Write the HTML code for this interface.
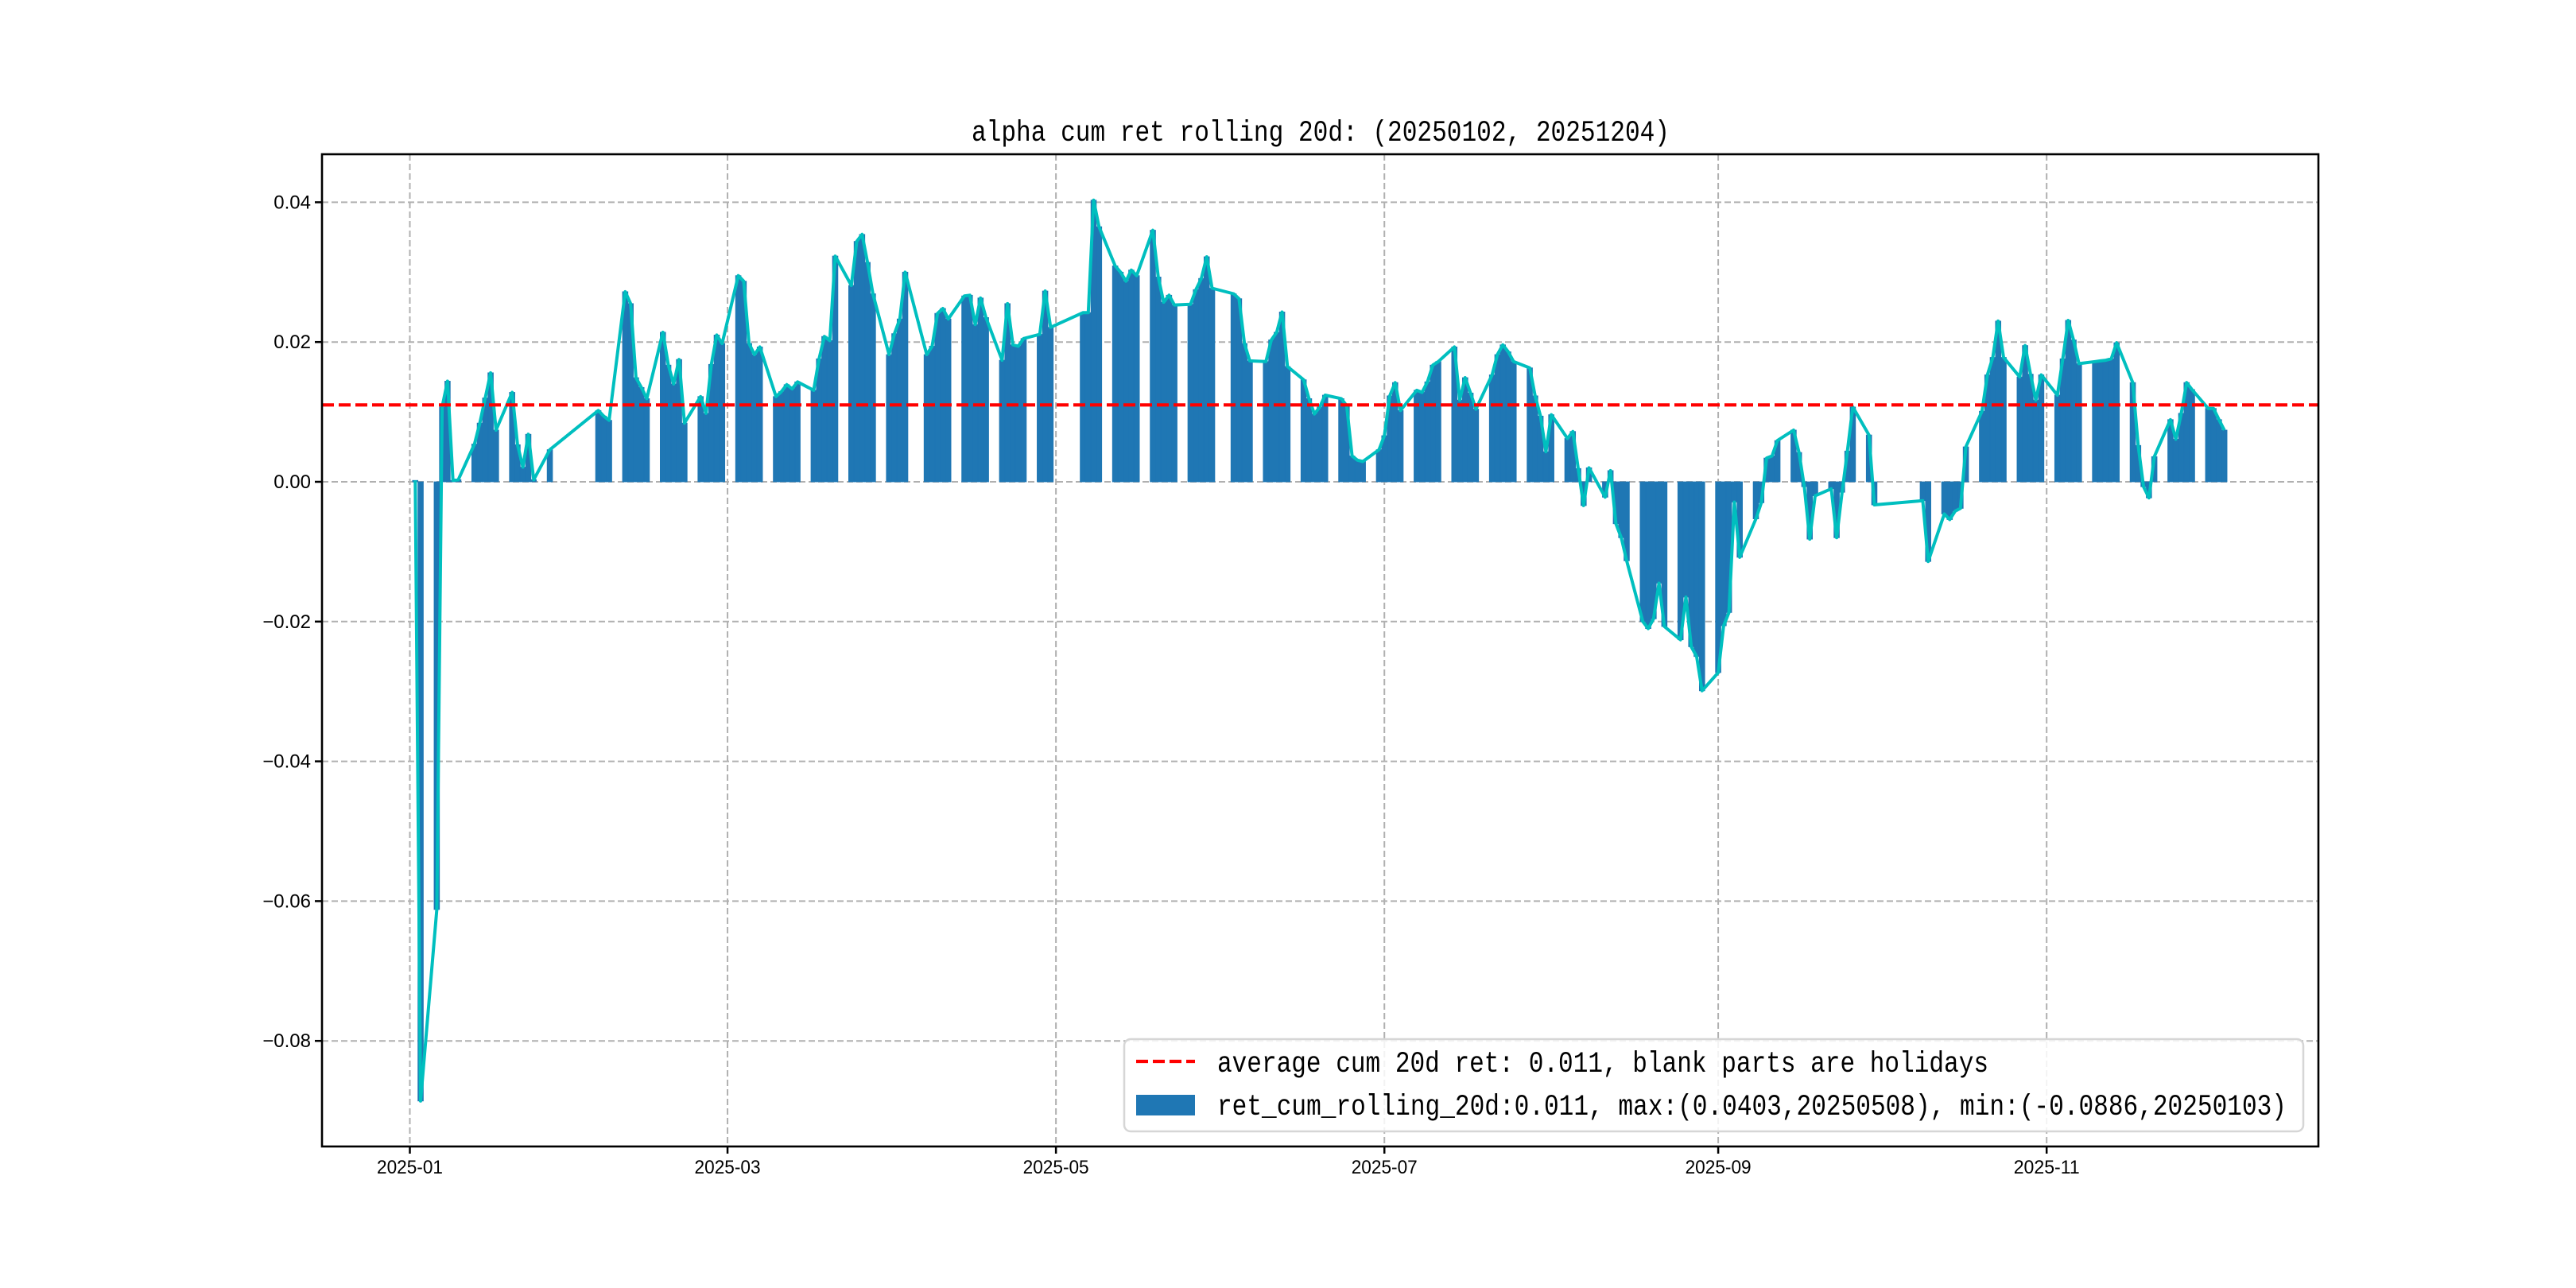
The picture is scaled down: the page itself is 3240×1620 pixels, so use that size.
<!DOCTYPE html>
<html><head><meta charset="utf-8">
<style>
html,body{margin:0;padding:0;background:#fff;}
svg{display:block;}
text{font-family:"Liberation Mono","WenQuanYi Zen Hei",monospace;fill:#000;}
.tick{font-family:"WenQuanYi Zen Hei","Liberation Sans",sans-serif;}
</style></head>
<body>
<svg id="chart" width="3240" height="1620" viewBox="0 0 3240 1620" xmlns="http://www.w3.org/2000/svg">
<rect x="0" y="0" width="3240" height="1620" fill="#fff"/>
<g id="grid"></g>
<g id="bars"></g>
<g id="line"></g>
<g id="avg"></g>
<rect x="405" y="194" width="2511" height="1248" fill="none" stroke="#000" stroke-width="2.6"/>
<g id="axes"></g>
<text x="1222" y="177" font-size="37" textLength="878" lengthAdjust="spacingAndGlyphs">alpha cum ret rolling 20d: (20250102, 20251204)</text>
<g>
  <rect x="1414" y="1307" width="1483" height="116" rx="8" fill="#fff" fill-opacity="0.85" stroke="#d6d6d6" stroke-width="2.5"/>
  <line x1="1429" y1="1335" x2="1503" y2="1335" stroke="#ff0000" stroke-width="4.2" stroke-dasharray="15,6"/>
  <text x="1531" y="1348" font-size="37" textLength="970" lengthAdjust="spacingAndGlyphs">average cum 20d ret: 0.011, blank parts are holidays</text>
  <rect x="1429" y="1377" width="74" height="26" fill="#1f77b4"/>
  <text x="1531" y="1402" font-size="37" textLength="1345" lengthAdjust="spacingAndGlyphs">ret_cum_rolling_20d:0.011, max:(0.0403,20250508), min:(-0.0886,20250103)</text>
</g>
</svg>
<script>
const dates = [
"0102","0103","0106","0107","0108","0109","0110","0113","0114","0115","0116","0117","0120","0121","0122","0123","0124","0127",
"0205","0206","0207","0210","0211","0212","0213","0214","0217","0218","0219","0220","0221","0224","0225","0226","0227","0228",
"0303","0304","0305","0306","0307","0310","0311","0312","0313","0314","0317","0318","0319","0320","0321","0324","0325","0326","0327","0328","0331",
"0401","0402","0403","0407","0408","0409","0410","0411","0414","0415","0416","0417","0418","0421","0422","0423","0424","0425","0428","0429","0430",
"0506","0507","0508","0509","0512","0513","0514","0515","0516","0519","0520","0521","0522","0523","0526","0527","0528","0529","0530",
"0603","0604","0605","0606","0609","0610","0611","0612","0613","0616","0617","0618","0619","0620","0623","0624","0625","0626","0627","0630",
"0701","0702","0703","0704","0707","0708","0709","0710","0711","0714","0715","0716","0717","0718","0721","0722","0723","0724","0725","0728","0729","0730","0731",
"0801","0804","0805","0806","0807","0808","0811","0812","0813","0814","0815","0818","0819","0820","0821","0822","0825","0826","0827","0828","0829",
"0901","0902","0903","0904","0905","0908","0909","0910","0911","0912","0915","0916","0917","0918","0919","0922","0923","0924","0925","0926","0929","0930",
"1009","1010","1013","1014","1015","1016","1017","1020","1021","1022","1023","1024","1027","1028","1029","1030","1031",
"1103","1104","1105","1106","1107","1110","1111","1112","1113","1114","1117","1118","1119","1120","1121","1124","1125","1126","1127","1128",
"1201","1202","1203","1204"];
const values = [
0.0002,-0.0886,-0.0612,0.0107,0.0144,0.0002,0.0003,0.0054,0.0084,0.012,0.0156,0.0074,0.0128,0.0053,0.0021,0.0068,0.0003,0.0046,
0.0102,0.0094,0.0088,0.0272,0.0255,0.0149,0.0135,0.0119,0.0214,0.0167,0.014,0.0175,0.0084,0.0122,0.0098,0.0168,0.021,0.0198,
0.0295,0.0287,0.0198,0.0182,0.0193,0.0122,0.0129,0.0139,0.0133,0.0143,0.0131,0.0176,0.0208,0.0202,0.0323,0.0281,0.0344,0.0354,0.0314,0.0269,0.0182,
0.0212,0.0233,0.03,0.0182,0.0194,0.0241,0.0248,0.0233,0.0266,0.0267,0.0225,0.0263,0.0235,0.0174,0.0255,0.0196,0.0194,0.0205,0.0211,0.0273,0.0221,
0.0242,0.0242,0.0403,0.0365,0.0309,0.03,0.0287,0.0303,0.0295,0.036,0.0293,0.0257,0.0267,0.0253,0.0254,0.0275,0.0291,0.0322,0.0277,
0.0269,0.0262,0.0198,0.0173,0.0172,0.0203,0.0214,0.0243,0.0165,0.0146,0.0119,0.0097,0.0107,0.0124,0.0119,0.0109,0.0037,0.0031,0.0029,0.0046,
0.0066,0.0123,0.0142,0.0102,0.0131,0.0128,0.0143,0.0167,0.0172,0.0193,0.0117,0.0149,0.0127,0.0104,0.0153,0.0182,0.0196,0.0186,0.0172,0.0163,0.0123,0.0094,0.0043,
0.0096,0.0062,0.0072,0.0019,-0.0034,0.002,-0.0022,0.0016,-0.006,-0.008,-0.0113,-0.02,-0.021,-0.0196,-0.0145,-0.0207,-0.0226,-0.0165,-0.0236,-0.025,-0.0299,
-0.0273,-0.0206,-0.0187,-0.0029,-0.0108,-0.0053,-0.003,0.0034,0.0037,0.0059,0.0074,0.0042,-0.0007,-0.0082,-0.002,-0.001,-0.008,-0.0015,0.0044,0.0107,0.0067,-0.0033,
-0.0027,-0.0114,-0.0046,-0.0054,-0.0042,-0.0038,0.005,0.0101,0.0153,0.0178,0.023,0.0178,0.015,0.0195,0.0154,0.0117,0.0153,
0.0124,0.0176,0.0231,0.0203,0.0169,0.0172,0.0173,0.0174,0.0176,0.0199,0.0142,0.0052,-0.0007,-0.0023,0.0036,0.0089,0.0061,0.0098,0.0142,0.0132,
0.0105,0.0105,0.0089,0.0074];
const averageValue = 0.011;
const yTicks = [0.04,0.02,0.00,-0.02,-0.04,-0.06,-0.08];
const yTickLabels = ["0.04","0.02","0.00","\u22120.02","\u22120.04","\u22120.06","\u22120.08"];
const xTicks = ["0101","0301","0501","0701","0901","1101"];
const xTickLabels = ["2025-01","2025-03","2025-05","2025-07","2025-09","2025-11"];

const NS = "http://www.w3.org/2000/svg";
const PL = 405, PR = 2916, PT = 194, PB = 1442;
const DAY_PX = 6.772, X0 = 515.5;
function dayOfYear(mmdd){
  const m = parseInt(mmdd.slice(0,2),10)-1, d = parseInt(mmdd.slice(2),10);
  return (Date.UTC(2025,m,d)-Date.UTC(2025,0,1))/86400000;
}
function xScale(mmdd){ return X0 + DAY_PX*dayOfYear(mmdd); }
function yScale(v){ return 606 - v*8790; }
function mk(tag, attrs, parent){
  const el = document.createElementNS(NS, tag);
  for (const k in attrs) el.setAttribute(k, attrs[k]);
  parent.appendChild(el);
  return el;
}
const grid = document.getElementById('grid');
const axes = document.getElementById('axes');
yTicks.forEach((t,i)=>{
  const y = yScale(t);
  const g = mk('line',{x1:PL,x2:PR,y1:y,y2:y,stroke:'#b0b0b0','stroke-width':2,'stroke-dasharray':'8,4'},grid);
  
  
  const tk = mk('line',{x1:PL-9,x2:PL,y1:y,y2:y,stroke:'#000','stroke-width':2.5},axes);
  
  
  const lb = mk('text',{x:PL-14,y:y+8,'font-size':24,'text-anchor':'end','class':'tick'},axes);
  
  
  lb.textContent = yTickLabels[i];
});
xTicks.forEach((t,i)=>{
  const x = xScale(t);
  const g = mk('line',{x1:x,x2:x,y1:PT,y2:PB,stroke:'#b0b0b0','stroke-width':2,'stroke-dasharray':'8,4'},grid);
  
  
  const tk = mk('line',{x1:x,x2:x,y1:PB,y2:PB+9,stroke:'#000','stroke-width':2.5},axes);
  
  
  const lb = mk('text',{x:x,y:PB+34,'font-size':24,'text-anchor':'middle','class':'tick',textLength:83,lengthAdjust:'spacingAndGlyphs'},axes);
  
  
  lb.textContent = xTickLabels[i];
});
const bars = document.getElementById('bars');
const y0 = yScale(0);
dates.forEach((d,i)=>{
  const cx = xScale(d), yv = yScale(values[i]);
  const r = mk('rect',{x:cx-DAY_PX/2,y:Math.min(y0,yv),width:DAY_PX,height:Math.max(0.5,Math.abs(yv-y0)),fill:'#1f77b4',stroke:'#1f77b4','stroke-width':0.8},bars);
  
  
});
const pts = dates.map((d,i)=>xScale(d).toFixed(1)+','+yScale(values[i]).toFixed(1)).join(' ');
const pl = mk('polyline',{points:pts,fill:'none',stroke:'#00bfbf','stroke-width':4,'stroke-linejoin':'round'},document.getElementById('line'));


const ya = yScale(averageValue);
const al = mk('line',{x1:PL,x2:PR,y1:ya,y2:ya,stroke:'#ff0000','stroke-width':4.2,'stroke-dasharray':'15,6'},document.getElementById('avg'));


</script>
</body></html>
